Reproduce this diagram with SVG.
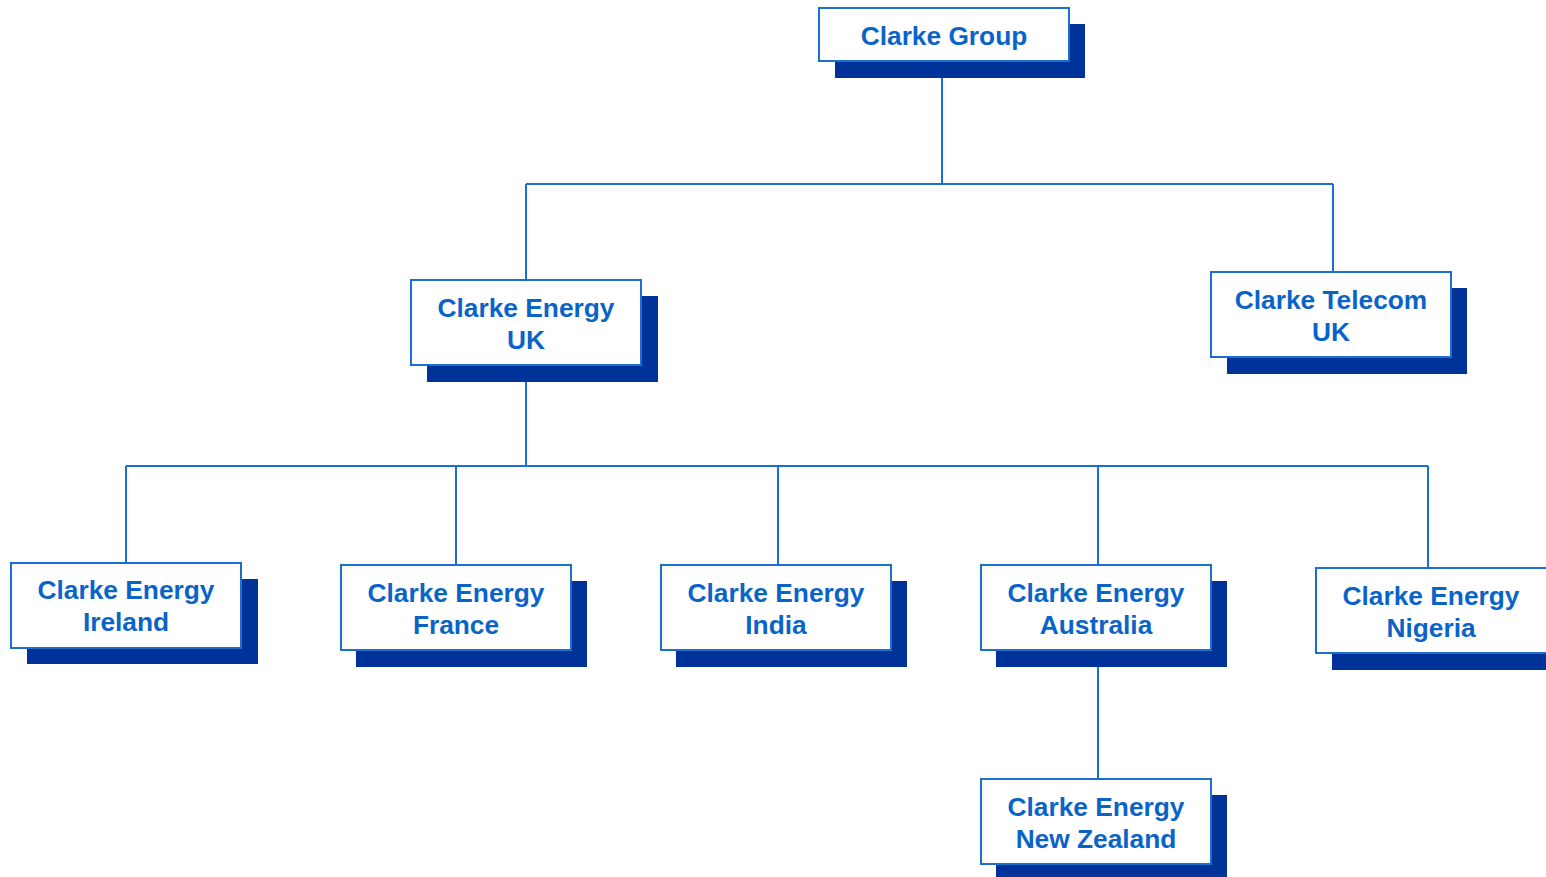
<svg xmlns="http://www.w3.org/2000/svg" width="1546" height="877" viewBox="0 0 1546 877">
<style>
.sh{fill:#003399}
.bx{fill:#fff;stroke:#1a6fd1;stroke-width:2}
.t{font-family:"Liberation Sans",Arial,sans-serif;font-weight:bold;font-size:26.3px;fill:#0a64c8;text-anchor:middle}
.c{fill:none;stroke:#1a6fd1;stroke-width:2}
</style>
<rect width="1546" height="877" fill="#fff"/>
<g id="connectors">
<path class="c" d="M942 62V184M526 184H1333M526 184V280M1333 184V272"/>
<path class="c" d="M526 366V466M126 466H1428M126 466V563M456 466V565M778 466V565M1098 466V565M1428 466V568"/>
<path class="c" d="M1098 651V779"/>
</g>
<g id="clarke-group">
<rect class="sh" x="835" y="24" width="250" height="54"/>
<rect class="bx" x="819" y="8" width="250" height="53"/>
<text class="t" x="944" y="45">Clarke Group</text>
</g>
<g id="clarke-energy-uk">
<rect class="sh" x="427" y="296" width="231" height="86"/>
<rect class="bx" x="411" y="280" width="230" height="85"/>
<text class="t" x="526" y="317">Clarke Energy</text>
<text class="t" x="526" y="349">UK</text>
</g>
<g id="clarke-telecom-uk">
<rect class="sh" x="1227" y="288" width="240" height="86"/>
<rect class="bx" x="1211" y="272" width="240" height="85"/>
<text class="t" x="1331" y="309">Clarke Telecom</text>
<text class="t" x="1331" y="341">UK</text>
</g>
<g id="clarke-energy-ireland">
<rect class="sh" x="27" y="579" width="231" height="85"/>
<rect class="bx" x="11" y="563" width="230" height="85"/>
<text class="t" x="126" y="599">Clarke Energy</text>
<text class="t" x="126" y="631">Ireland</text>
</g>
<g id="clarke-energy-france">
<rect class="sh" x="356" y="581" width="231" height="86"/>
<rect class="bx" x="341" y="565" width="230" height="85"/>
<text class="t" x="456" y="602">Clarke Energy</text>
<text class="t" x="456" y="634">France</text>
</g>
<g id="clarke-energy-india">
<rect class="sh" x="676" y="581" width="231" height="86"/>
<rect class="bx" x="661" y="565" width="230" height="85"/>
<text class="t" x="776" y="602">Clarke Energy</text>
<text class="t" x="776" y="634">India</text>
</g>
<g id="clarke-energy-australia">
<rect class="sh" x="996" y="581" width="231" height="86"/>
<rect class="bx" x="981" y="565" width="230" height="85"/>
<text class="t" x="1096" y="602">Clarke Energy</text>
<text class="t" x="1096" y="634">Australia</text>
</g>
<g id="clarke-energy-nigeria">
<rect class="sh" x="1332" y="584" width="231" height="86"/>
<rect class="bx" x="1316" y="568" width="240" height="85"/>
<text class="t" x="1431" y="605">Clarke Energy</text>
<text class="t" x="1431" y="637">Nigeria</text>
</g>
<g id="clarke-energy-new-zealand">
<rect class="sh" x="996" y="795" width="231" height="86"/>
<rect class="bx" x="981" y="779" width="230" height="85"/>
<text class="t" x="1096" y="816">Clarke Energy</text>
<text class="t" x="1096" y="848">New Zealand</text>
</g>
</svg>
